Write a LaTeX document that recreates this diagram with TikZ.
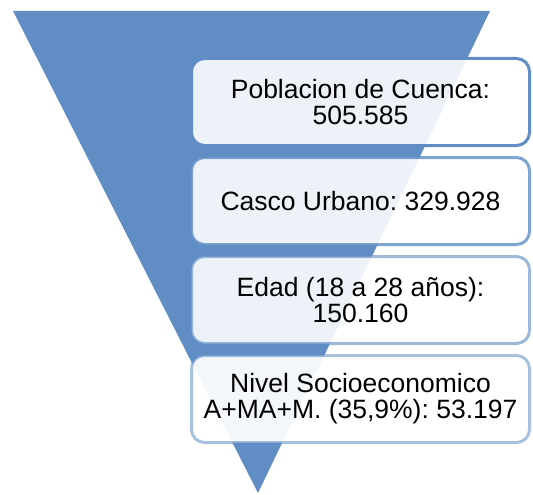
\documentclass[tikz,border=0pt]{standalone}
\usepackage{fontspec}
\setmainfont{Liberation Sans}
\usepackage{xcolor}
\usetikzlibrary{positioning}
\frenchspacing

\definecolor{funnelblue}{RGB}{96,142,196}

\begin{document}
\begin{tikzpicture}[x=1pt,y=1pt,
    funnel/.style={fill=funnelblue},
    stage/.style={draw=funnelblue, line width=3pt, rounded corners=13pt,
        fill=white, fill opacity=0.89, text opacity=1,
        minimum width=338pt, minimum height=87pt, align=center,
        font=\fontsize{26.5}{26}\selectfont},
    node distance=9pt]
\useasboundingbox (0,0) rectangle (533,-495);
% Funnel
\fill[funnel] (13,-11) -- (490,-11) -- (258,-493) -- cycle;
% Stages
\node[stage] (poblacion) at (360.5,-102) {Poblacion de Cuenca:\\505.585};
\node[stage, draw opacity=0.8, below=of poblacion] (urbano) {Casco Urbano: 329.928};
\node[stage, draw opacity=0.62, below=of urbano] (edad) {Edad (18 a 28 años):\\150.160};
\node[stage, draw opacity=0.55, fill opacity=0.93, below=of edad] (nivel) {Nivel Socioeconomico\\A+MA+M. (35,9\%): 53.197};
\end{tikzpicture}
\end{document}
